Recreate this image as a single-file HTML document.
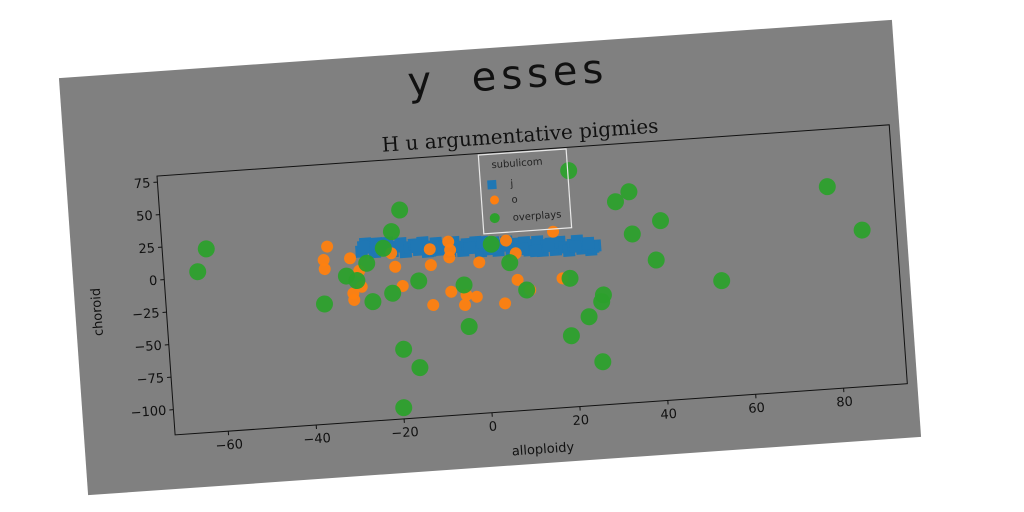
<!DOCTYPE html>
<html><head><meta charset="utf-8"><style>
html,body{margin:0;padding:0;background:#fff;width:1024px;height:512px;overflow:hidden}
svg{display:block}
text{font-family:"DejaVu Sans","Liberation Sans",sans-serif}
</style></head><body>
<svg id="chart" width="1024" height="512" xmlns="http://www.w3.org/2000/svg">
<g id="fig" transform="translate(490,257.5) rotate(-4) translate(-417.5,-209)">
<rect x="0" y="0" width="835" height="418" fill="#808080"/>
<text x="448" y="42" font-size="40" letter-spacing="5" text-anchor="middle" fill="#111" style="white-space:pre" xml:space="preserve">y  esses</text>
<text x="456" y="96" font-size="20" text-anchor="middle" fill="#111" style="font-family:'DejaVu Serif','Liberation Serif',serif">H u argumentative pigmies</text>
<g id="plot"></g>
<text x="457" y="408" font-size="13" text-anchor="middle" fill="#111">alloploidy</text>
<text transform="translate(26,236) rotate(-90)" font-size="13" text-anchor="middle" fill="#111">choroid</text>
<g>
<rect x="413" y="106" width="88" height="79" fill="none" stroke="#e8e8e8" stroke-width="1.2"/>
<text x="451" y="120" font-size="10" text-anchor="middle" fill="#222">subulicom</text>
<rect x="420" y="132" width="9" height="9" fill="#1f77b4"/>
<text x="443" y="140" font-size="10" fill="#222">j</text>
<circle cx="426" cy="152" r="4.5" fill="#ff7f0e"/>
<text x="443" y="156" font-size="10" fill="#222">o</text>
<circle cx="425" cy="170" r="5" fill="#2ca02c"/>
<text x="443" y="174" font-size="10" fill="#222">overplays</text>
</g>
</g>
</svg>
<script>
const xTicks=[-60,-40,-20,0,20,40,60,80];
const yTicks=[-100,-75,-50,-25,0,25,50,75];
const blueX=[-27,-26,-25,-24,-23,-22,-21,-20,-19,-18,-17,-16,-15,-14,-13,-12,-11,-10,-9,-8,-7,-6,-5,-4,-3,-2,-1,0,1,2,3,4,5,6,7,8,9,10,11,12,13,14,15,16,17,18,19,20,21,22,23,24,25,26,-26.5,-20.5,-14.5,-8.5,-2.5,3.5,9.5,15.5,21.5,25.5,-23.5,-11.5,0.5,12.5,24.5];
const blueY=[11,16.8,13.6,9.9,15.2,12,16.2,9.5,12.8,15.1,8.4,11.7,13.5,9.3,14.6,7.4,11.1,13.4,8.2,11,6.3,13.1,9.4,6.2,11,7.8,12,4.8,9.1,5.9,10.7,4.5,7.8,10.6,3.4,8.7,5.4,9.2,3,6.8,9.1,1.9,5.2,7,2,7.6,3.3,0.6,4.9,7.6,1.5,5.3,0.1,2.9,14.4,10.6,12.4,9.6,7.9,8.1,4.3,6.1,3.3,2,16.3,7.8,11.7,2.2,5.2];
const orangeX=[-34.7,-35.7,-35.6,-29.7,-27.8,-27.5,-29.5,-29.4,-20.3,-19.6,-18.2,-11.5,-11.5,-7.2,-6.9,-7.2,-0.5,5.9,7.9,7.9,10.6,16.7,18.1,-7.3,-3.9,-1.6,-11.6,-4.4,4.7];
const orangeY=[16.6,6.5,-0.5,6.4,-3.6,-16,-20.6,-25.7,8.1,-2.5,-17.6,9.1,-3.1,13.9,7.4,1.8,-3.6,11.6,1.4,-19.1,-27.5,15.9,-20.3,-24.6,-27.9,-29.8,-33.8,-35.5,-36.4];
const greenX=[-62.1,-64.4,-17.7,-19.9,-22,-26,-30.8,-28.5,-36.2,-25.2,-20.6,-14.5,-19,-15.6,-19.9,-4.3,-3.8,2.5,6.4,9.8,19.8,27.1,26.6,23.5,19.2,25.9,31.3,34.5,34.6,41.2,39.6,54.1,79.5,86.7,21.2];
const greenY=[21.3,4.3,40.7,24.6,12.3,1.7,-7,-11,-27.2,-28,-22.6,-14.6,-66.1,-81,-110.8,-20.1,-52.2,9.6,-5.5,-27.3,-20.7,-35.2,-40.3,-51.1,-64.7,-86.3,35.5,42.4,9.9,18.6,-11.3,-30.6,35.7,0.6,61.8];
const NS="http://www.w3.org/2000/svg";
const L=91,R=825,T=104.5,B=364,xMin=-72.1,xMax=94.5,yMin=-119.4,yMax=79.7;
function sx(v){return L+(v-xMin)/(xMax-xMin)*(R-L);}
function sy(v){return B-(v-yMin)/(yMax-yMin)*(B-T);}
const plot=document.getElementById('plot');
function mk(tag,attrs){const e=document.createElementNS(NS,tag);for(const k in attrs)e.setAttribute(k,attrs[k]);plot.appendChild(e);return e;}
for(let i=0;i<blueX.length;i++){
 const e=mk('rect',{x:sx(blueX[i])-6,y:sy(blueY[i])-6,width:12,height:12,fill:'#1f77b4'});
 
 
}
for(let i=0;i<orangeX.length;i++){
 const e=mk('circle',{cx:sx(orangeX[i]),cy:sy(orangeY[i]),r:6,fill:'#ff7f0e','fill-opacity':0.95});
 
 
}
for(let i=0;i<greenX.length;i++){
 const e=mk('circle',{cx:sx(greenX[i]),cy:sy(greenY[i]),r:8.5,fill:'#2ca02c','fill-opacity':0.95});
 
 
}
const frame=mk('rect',{x:L,y:T,width:R-L,height:B-T,fill:'none',stroke:'#111','stroke-width':1});


for(const t of xTicks){
 const x=sx(t);
 const tk=mk('line',{x1:x,x2:x,y1:B,y2:B+4,stroke:'#111'});
 
 
 const lb=mk('text',{x:x,y:B+18,'font-size':13,'text-anchor':'middle',fill:'#111'});
 lb.textContent=String(t).replace('-','\u2212');
 
 
}
for(const t of yTicks){
 const y=sy(t);
 const tk=mk('line',{x1:L-4,x2:L,y1:y,y2:y,stroke:'#111'});
 
 
 const lb=mk('text',{x:L-7,y:y+4.5,'font-size':13,'text-anchor':'end',fill:'#111'});
 lb.textContent=String(t).replace('-','\u2212');
 
 
}
</script>
</body></html>
